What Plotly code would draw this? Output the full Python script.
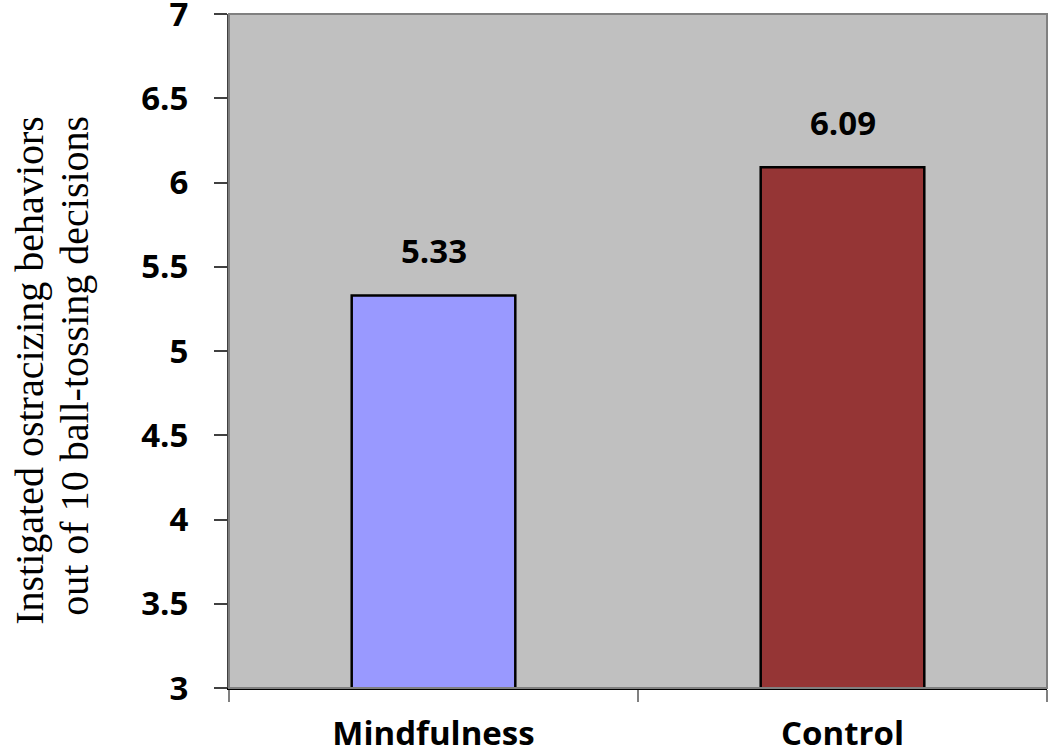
import plotly.graph_objects as go

categories = ["Mindfulness", "Control"]
values = [5.33, 6.09]
colors = ["#9999FF", "#953535"]
value_labels = ["5.33", "6.09"]
y_ticks = [3, 3.5, 4, 4.5, 5, 5.5, 6, 6.5, 7]
y_tick_labels = ["3", "3.5", "4", "4.5", "5", "5.5", "6", "6.5", "7"]
y_title_lines = ["Instigated ostracizing behaviors", "out of 10 ball-tossing decisions"]

bold = dict(family="Open Sans", size=33, color="black", weight="bold")

fig = go.Figure()
fig.add_trace(go.Bar(
    x=categories, y=values, width=0.4,
    marker=dict(color=colors, line=dict(color="black", width=2.5)),
    cliponaxis=False,
))

for c, v, t in zip(categories, values, value_labels):
    fig.add_annotation(x=c, y=v, text=t, showarrow=False, yanchor="bottom",
                       yshift=20, font=bold)

for (xp, yp), line in zip([(-0.2433, 0.4720), (-0.1883, 0.4780)], y_title_lines):
    fig.add_annotation(xref="paper", yref="paper", x=xp, y=yp, text=line,
                       showarrow=False, textangle=-90, xanchor="center", yanchor="middle",
                       font=dict(family="Liberation Serif", size=40, color="black"))

fig.add_shape(type="rect", xref="paper", yref="paper", x0=0, x1=1, y0=0, y1=1,
              line=dict(color="#808080", width=2), layer="above")

fig.update_layout(
    width=1050, height=752,
    margin=dict(l=229, r=3, t=14, b=64),
    paper_bgcolor="white", plot_bgcolor="#C0C0C0",
    showlegend=False,
    xaxis=dict(
        tickson="boundaries", ticks="outside", ticklen=12, tickcolor="#808080", tickwidth=2,
        showline=True, linecolor="black", linewidth=2, layer="above traces",
        tickfont=bold, ticklabelstandoff=15,
        showgrid=False, automargin=False,
    ),
    yaxis=dict(
        range=[3, 7.0001], tickvals=y_ticks, ticktext=y_tick_labels,
        ticks="outside", ticklen=13, tickcolor="#404040", tickwidth=2,
        showline=True, linecolor="#404040", linewidth=2,
        showgrid=False, zeroline=False, automargin=False,
        tickfont=bold, ticklabelstandoff=19, ticklabeloverflow="allow",
    ),
)

fig.write_html("out.html", config={"displayModeBar": False},
               post_script="document.body.style.margin='0';document.body.style.overflow='hidden';")
